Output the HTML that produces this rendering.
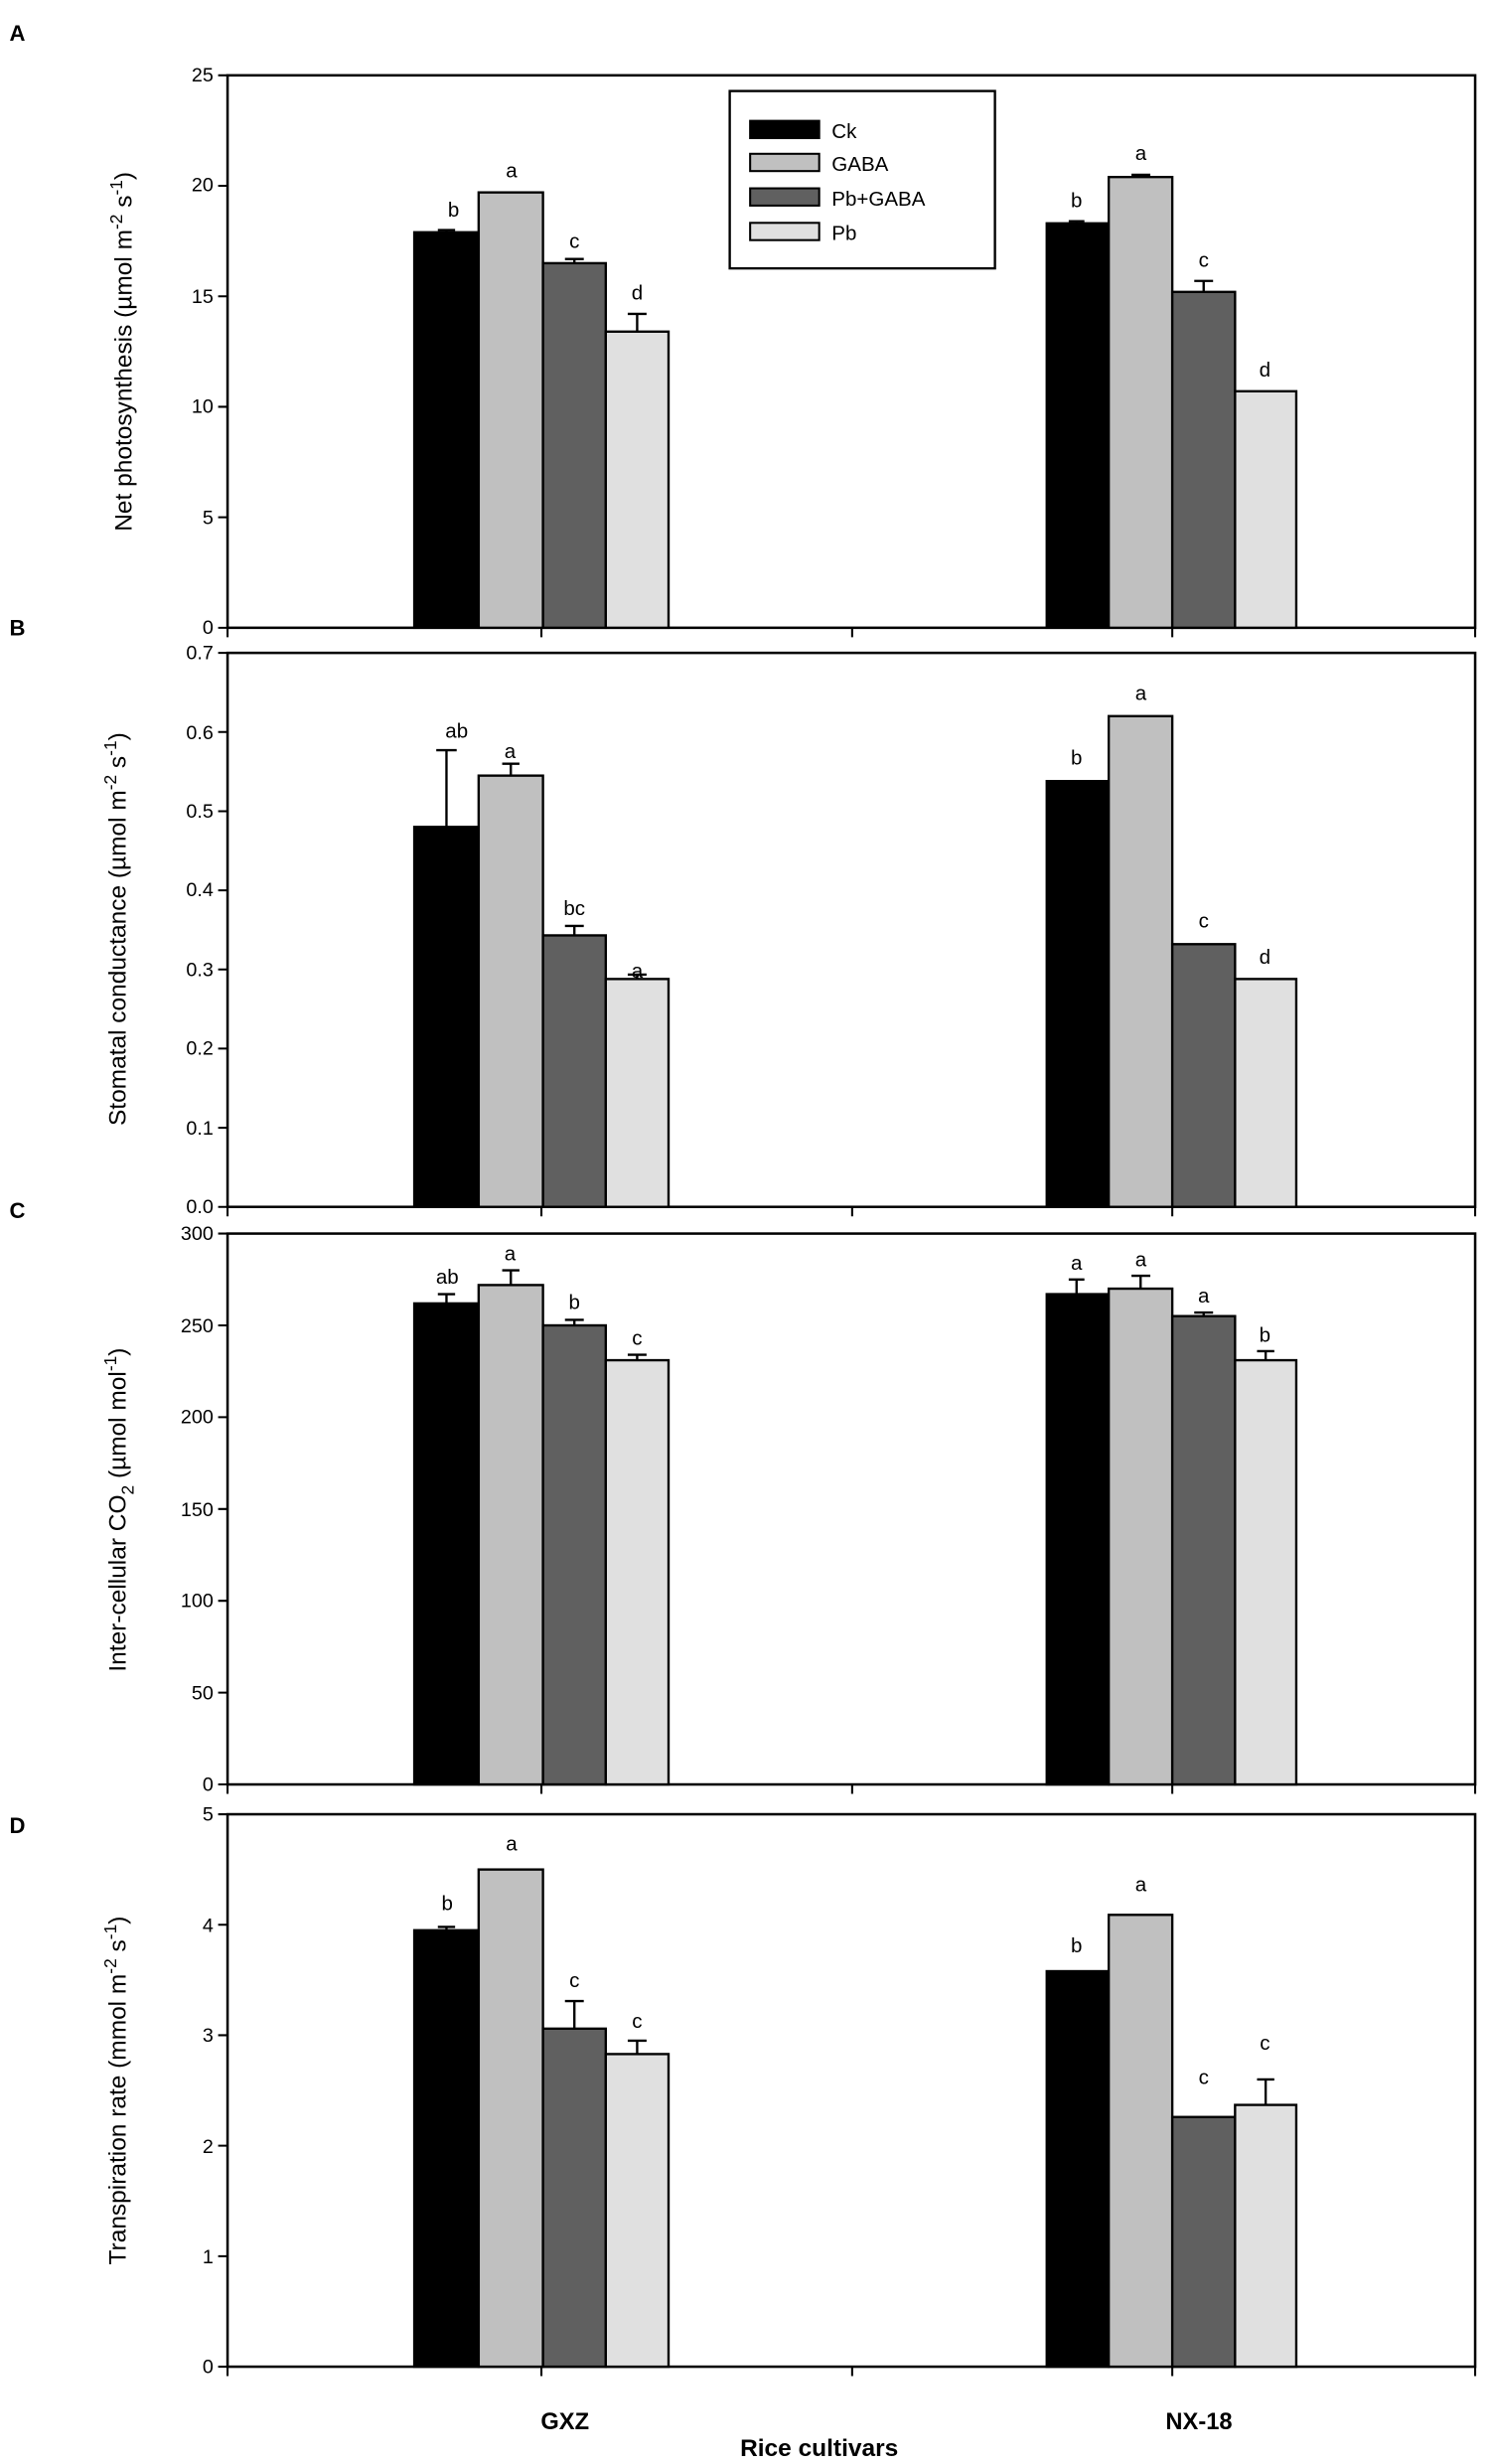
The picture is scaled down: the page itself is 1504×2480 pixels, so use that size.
<!DOCTYPE html>
<html><head><meta charset="utf-8"><style>html,body{margin:0;padding:0;background:#fff}svg{display:block}</style></head>
<body>
<svg width="1504" height="2480" viewBox="0 0 952 1570" preserveAspectRatio="none" xmlns="http://www.w3.org/2000/svg" font-family="Liberation Sans, sans-serif">
<g font-weight="bold" font-size="14">
<text x="6" y="26">A</text><text x="6" y="405">B</text><text x="6" y="776">C</text><text x="6" y="1168">D</text>
</g>
<g fill="none" stroke="#000" stroke-width="1.6">
<rect x="145" y="48" width="795" height="352"/>
<rect x="145" y="416" width="795" height="353"/>
<rect x="145" y="786" width="795" height="351"/>
<rect x="145" y="1156" width="795" height="352"/>
</g>
<g stroke="#000" stroke-width="1.3">
<path d="M139 48h6M139 118.4h6M139 188.8h6M139 259.2h6M139 329.6h6M139 400h6"/>
<path d="M145 400v6M345 400v6M543 400v6M747 400v6M940 400v6"/>
<path d="M139 416h6M139 466.4h6M139 516.9h6M139 567.3h6M139 617.7h6M139 668.1h6M139 718.6h6M139 769h6"/>
<path d="M145 769v6M345 769v6M543 769v6M747 769v6M940 769v6"/>
<path d="M139 786h6M139 844.5h6M139 903h6M139 961.5h6M139 1020h6M139 1078.5h6M139 1137h6"/>
<path d="M145 1137v6M345 1137v6M543 1137v6M747 1137v6M940 1137v6"/>
<path d="M139 1156h6M139 1226.4h6M139 1296.8h6M139 1367.2h6M139 1437.6h6M139 1508h6"/>
<path d="M145 1508v6M345 1508v6M543 1508v6M747 1508v6M940 1508v6"/>
</g>
<g font-size="12.5" text-anchor="end">
<text x="136" y="52">25</text><text x="136" y="122">20</text><text x="136" y="193">15</text><text x="136" y="263">10</text><text x="136" y="334">5</text><text x="136" y="404">0</text>
<text x="136" y="420">0.7</text><text x="136" y="471">0.6</text><text x="136" y="521">0.5</text><text x="136" y="571">0.4</text><text x="136" y="622">0.3</text><text x="136" y="672">0.2</text><text x="136" y="723">0.1</text><text x="136" y="773">0.0</text>
<text x="136" y="790">300</text><text x="136" y="849">250</text><text x="136" y="907">200</text><text x="136" y="966">150</text><text x="136" y="1024">100</text><text x="136" y="1083">50</text><text x="136" y="1141">0</text>
<text x="136" y="1160">5</text><text x="136" y="1231">4</text><text x="136" y="1301">3</text><text x="136" y="1372">2</text><text x="136" y="1442">1</text><text x="136" y="1512">0</text>
</g>
<g font-size="15.5" text-anchor="middle">
<text transform="translate(84,224) rotate(-90)">Net photosynthesis (µmol m<tspan dy="-6" font-size="11">-2</tspan><tspan dy="6"> s</tspan><tspan dy="-6" font-size="11">-1</tspan><tspan dy="6">)</tspan></text>
<text transform="translate(80,592) rotate(-90)">Stomatal conductance (µmol m<tspan dy="-6" font-size="11">-2</tspan><tspan dy="6"> s</tspan><tspan dy="-6" font-size="11">-1</tspan><tspan dy="6">)</tspan></text>
<text transform="translate(80,962) rotate(-90)">Inter-cellular CO<tspan dy="5" font-size="11">2</tspan><tspan dy="-5"> (µmol mol</tspan><tspan dy="-6" font-size="11">-1</tspan><tspan dy="6">)</tspan></text>
<text transform="translate(80,1332) rotate(-90)">Transpiration rate (mmol m<tspan dy="-6" font-size="11">-2</tspan><tspan dy="6"> s</tspan><tspan dy="-6" font-size="11">-1</tspan><tspan dy="6">)</tspan></text>
</g>
<rect x="465" y="58" width="169" height="113" fill="#fff" stroke="#000" stroke-width="1.5"/>
<g stroke="#000" stroke-width="1.3">
<rect x="478" y="77" width="44" height="11" fill="#000"/>
<rect x="478" y="98" width="44" height="11" fill="#c0c0c0"/>
<rect x="478" y="120" width="44" height="11" fill="#606060"/>
<rect x="478" y="142" width="44" height="11" fill="#e0e0e0"/>
</g>
<g font-size="13"><text x="530" y="88">Ck</text><text x="530" y="109">GABA</text><text x="530" y="131">Pb+GABA</text><text x="530" y="153">Pb</text></g>
<g stroke="#000" stroke-width="1.5">
<rect x="264" y="148" width="41" height="252" fill="#000"/>
<rect x="305" y="122.6" width="41" height="277.4" fill="#c0c0c0"/>
<rect x="346" y="167.7" width="40" height="232.3" fill="#606060"/>
<rect x="386" y="211.3" width="40" height="188.7" fill="#e0e0e0"/>
<rect x="667" y="142.3" width="39.5" height="257.7" fill="#000"/>
<rect x="706.5" y="112.8" width="40.5" height="287.2" fill="#c0c0c0"/>
<rect x="747" y="186" width="40" height="214" fill="#606060"/>
<rect x="787" y="249.3" width="39" height="150.7" fill="#e0e0e0"/>
<path d="M284.5 148V146.6M279 146.6h11M366 167.7V165M360 165h12M406 211.3V200M400 200h12M686 142.3V141M681 141h10M726.8 112.8V111.4M721 111.4h12M767 186V179M761 179h12" fill="none"/>
<rect x="264" y="526.9" width="41" height="242.1" fill="#000"/>
<rect x="305" y="494.2" width="41" height="274.8" fill="#c0c0c0"/>
<rect x="346" y="596" width="40" height="173" fill="#606060"/>
<rect x="386" y="623.8" width="40" height="145.2" fill="#e0e0e0"/>
<rect x="667" y="497.7" width="39.5" height="271.3" fill="#000"/>
<rect x="706.5" y="456.3" width="40.5" height="312.7" fill="#c0c0c0"/>
<rect x="747" y="601.6" width="40" height="167.4" fill="#606060"/>
<rect x="787" y="623.8" width="39" height="145.2" fill="#e0e0e0"/>
<path d="M284.5 527V478M278 478h13M325.5 494V486.6M320 486.6h11M366 596V590M360 590h12M406 623.8V621M400 621h12" fill="none"/>
<rect x="264" y="830.5" width="41" height="306.5" fill="#000"/>
<rect x="305" y="818.8" width="41" height="318.2" fill="#c0c0c0"/>
<rect x="346" y="844.5" width="40" height="292.5" fill="#606060"/>
<rect x="386" y="866.7" width="40" height="270.3" fill="#e0e0e0"/>
<rect x="667" y="824.6" width="39.5" height="312.4" fill="#000"/>
<rect x="706.5" y="821.1" width="40.5" height="315.9" fill="#c0c0c0"/>
<rect x="747" y="838.6" width="40" height="298.4" fill="#606060"/>
<rect x="787" y="866.7" width="39" height="270.3" fill="#e0e0e0"/>
<path d="M284.5 830.5V824.6M279 824.6h11M325.5 818.8V809.4M320 809.4h11M366 844.5V841M360 841h12M406 866.7V863.2M400 863.2h12M686 824.6V815.3M681 815.3h10M726.8 821.1V812.9M721 812.9h12M767 838.6V836.3M761 836.3h12M806.5 866.7V860.9M801 860.9h11" fill="none"/>
<rect x="264" y="1229.9" width="41" height="278.1" fill="#000"/>
<rect x="305" y="1191.2" width="41" height="316.8" fill="#c0c0c0"/>
<rect x="346" y="1292.6" width="40" height="215.4" fill="#606060"/>
<rect x="386" y="1308.8" width="40" height="199.2" fill="#e0e0e0"/>
<rect x="667" y="1256" width="39.5" height="252" fill="#000"/>
<rect x="706.5" y="1220.1" width="40.5" height="287.9" fill="#c0c0c0"/>
<rect x="747" y="1348.9" width="40" height="159.1" fill="#606060"/>
<rect x="787" y="1341.2" width="39" height="166.8" fill="#e0e0e0"/>
<path d="M284.5 1230V1227.8M279 1227.8h11M366 1292.6V1275M360 1275h12M406 1308.8V1300.3M400 1300.3h12M806.5 1341.2V1325M801 1325h11" fill="none"/>
</g>
<g font-size="13" text-anchor="middle">
<text x="289" y="138">b</text><text x="326" y="113">a</text><text x="366" y="158">c</text><text x="406" y="191">d</text>
<text x="686" y="132">b</text><text x="727" y="102">a</text><text x="767" y="170">c</text><text x="806" y="240">d</text>
<text x="291" y="470">ab</text><text x="325" y="483">a</text><text x="366" y="583">bc</text><text x="406" y="623">a</text>
<text x="686" y="487">b</text><text x="727" y="446">a</text><text x="767" y="591">c</text><text x="806" y="614">d</text>
<text x="285" y="818">ab</text><text x="325" y="803">a</text><text x="366" y="834">b</text><text x="406" y="857">c</text>
<text x="686" y="809">a</text><text x="727" y="807">a</text><text x="767" y="830">a</text><text x="806" y="855">b</text>
<text x="285" y="1217">b</text><text x="326" y="1179">a</text><text x="366" y="1266">c</text><text x="406" y="1292">c</text>
<text x="686" y="1244">b</text><text x="727" y="1205">a</text><text x="767" y="1328">c</text><text x="806" y="1306">c</text>
</g>
<g font-weight="bold" text-anchor="middle">
<text x="360" y="1548" font-size="15">GXZ</text>
<text x="764" y="1548" font-size="15">NX-18</text>
<text x="522" y="1565" font-size="15.5">Rice cultivars</text>
</g>
</svg>
</body></html>
